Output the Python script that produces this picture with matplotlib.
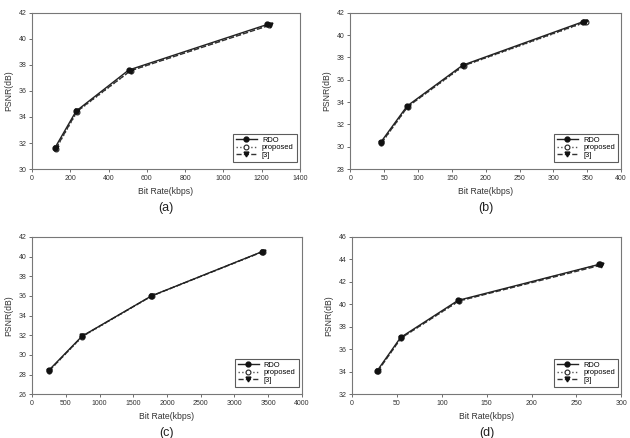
import matplotlib
matplotlib.use('Agg')
from matplotlib import pyplot as plt

plt.rcParams['font.family'] = ['Liberation Sans', 'DejaVu Sans']

# (a)
a_rdo_x = [120, 230, 505, 1230]
a_rdo_y = [31.65, 34.45, 37.6, 41.1]
a_prop_x = [125, 235, 515, 1240]
a_prop_y = [31.55, 34.4, 37.55, 41.05]
a_ref_x = [125, 235, 515, 1245]
a_ref_y = [31.6, 34.45, 37.55, 41.05]

# (b)
b_rdo_x = [45, 84, 166, 344]
b_rdo_y = [30.4, 33.65, 37.3, 41.2]
b_prop_x = [46, 85, 168, 348]
b_prop_y = [30.3, 33.6, 37.25, 41.15]
b_ref_x = [46, 85, 167, 346]
b_ref_y = [30.35, 33.6, 37.25, 41.15]

# (c)
c_rdo_x = [250, 740, 1770, 3410]
c_rdo_y = [28.45, 31.9, 36.0, 40.5]
c_prop_x = [255, 745, 1775, 3420]
c_prop_y = [28.4, 31.85, 36.0, 40.5]
c_ref_x = [255, 745, 1775, 3420]
c_ref_y = [28.4, 31.9, 36.0, 40.5]

# (d)
d_rdo_x = [28, 54, 118, 275]
d_rdo_y = [34.1, 37.05, 40.35, 43.55]
d_prop_x = [28.5, 54.5, 119, 276]
d_prop_y = [34.05, 37.0, 40.3, 43.55]
d_ref_x = [28.5, 54.5, 119, 278]
d_ref_y = [34.05, 37.0, 40.3, 43.5]

panels = [
    ('(a)', (a_rdo_x, a_rdo_y), (a_prop_x, a_prop_y), (a_ref_x, a_ref_y),
     (0, 1400, 200), (30, 42, 2), [0.051, 0.614, 0.425, 0.357]),
    ('(b)', (b_rdo_x, b_rdo_y), (b_prop_x, b_prop_y), (b_ref_x, b_ref_y),
     (0, 400, 50), (28, 42, 2), [0.556, 0.614, 0.430, 0.357]),
    ('(c)', (c_rdo_x, c_rdo_y), (c_prop_x, c_prop_y), (c_ref_x, c_ref_y),
     (0, 4000, 500), (26, 42, 2), [0.051, 0.100, 0.428, 0.359]),
    ('(d)', (d_rdo_x, d_rdo_y), (d_prop_x, d_prop_y), (d_ref_x, d_ref_y),
     (0, 300, 50), (32, 46, 2), [0.559, 0.100, 0.427, 0.359]),
]

fig = plt.figure(figsize=(6.3, 4.38), dpi=100)

for label, rdo, prop, ref, xr, yr, rect in panels:
    ax = fig.add_axes(rect)
    ax.plot(prop[0], prop[1], color='#555555', linestyle=':', linewidth=1.0,
            marker='o', markersize=3.5, markerfacecolor='white',
            markeredgecolor='#222222', markeredgewidth=0.8, label='proposed')
    ax.plot(ref[0], ref[1], color='#333333', linestyle='--', linewidth=1.0,
            marker='v', markersize=3.5, markerfacecolor='#111111',
            markeredgecolor='#111111', label='[3]')
    ax.plot(rdo[0], rdo[1], color='#222222', linestyle='-', linewidth=1.0,
            marker='o', markersize=3.5, markerfacecolor='#111111',
            markeredgecolor='#111111', label='RDO')
    ax.set_xlim(xr[0], xr[1])
    ax.set_ylim(yr[0], yr[1])
    ax.set_xticks(list(range(xr[0], xr[1] + 1, xr[2])))
    ax.set_yticks(list(range(yr[0], yr[1] + 1, yr[2])))
    for s in ax.spines.values():
        s.set_color('#777777')
        s.set_linewidth(0.8)
    ax.tick_params(labelsize=5, length=2, width=0.6, color='#555555',
                   labelcolor='#333333', pad=2)
    ax.set_xlabel('Bit Rate(kbps)', fontsize=6.2, color='#333333', labelpad=4)
    ax.set_ylabel('PSNR(dB)', fontsize=6.2, color='#333333', labelpad=4)
    h, l = ax.get_legend_handles_labels()
    order = [l.index('RDO'), l.index('proposed'), l.index('[3]')]
    leg = ax.legend([h[i] for i in order], [l[i] for i in order],
                    loc='lower right', bbox_to_anchor=(0.988, 0.045),
                    fontsize=5.4, frameon=True, fancybox=False,
                    handlelength=2.8, handletextpad=0.7, borderpad=0.4,
                    labelspacing=0.05, borderaxespad=0)
    leg.get_frame().set_edgecolor('#333333')
    leg.get_frame().set_linewidth(0.8)
    pos = ax.get_position()
    fig.text(pos.x0 + pos.width / 2, pos.y0 - 0.088, label,
             ha='center', va='center', fontsize=9, color='#222222')

fig.savefig('out.png', dpi=100)
